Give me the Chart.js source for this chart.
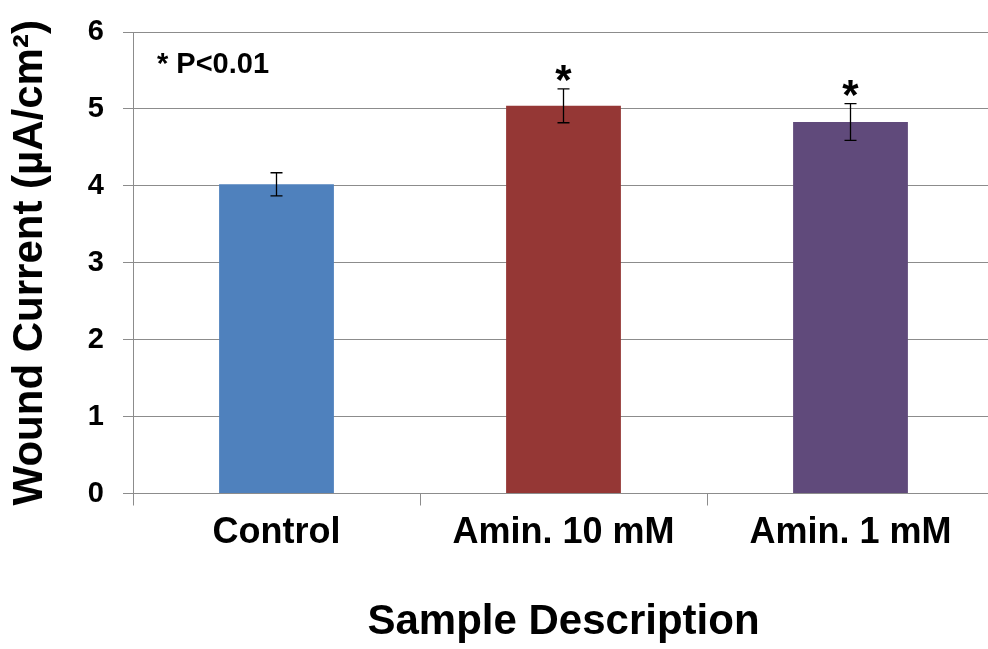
<!DOCTYPE html>
<html>
<head>
<meta charset="utf-8">
<title>Wound Current</title>
<script src="https://cdn.jsdelivr.net/npm/chart.js@4/dist/chart.umd.min.js"></script>
<style>
    html, body { margin: 0; padding: 0; background: #fff; overflow: hidden; }
    #wrap { width: 988px; height: 649px; overflow: hidden; }
</style>
</head>
<body>
<div id="wrap">
    <canvas id="woundChart" width="994" height="649"></canvas>
</div>
<script>
// values
const categories = ['Control', 'Amin. 10 mM', 'Amin. 1 mM'];
const currents = [4.02, 5.04, 4.83];
const errors = [0.15, 0.22, 0.24];
const significant = [false, true, true];
const barColors = ['#4f81bd', '#953735', '#604a7b'];
const yTicks = [0, 1, 2, 3, 4, 5, 6];

const FONT = '"Liberation Sans", Arial, sans-serif';
const GRID = '#8c8c8c';

// error bars, significance stars and the p-value note
const errorBarPlugin = {
    id: 'errorBars',
    afterDatasetsDraw(chart) {
        const ctx = chart.ctx;
        const y = chart.scales.y;
        const meta = chart.getDatasetMeta(0);
        ctx.save();
        ctx.strokeStyle = '#000';
        ctx.lineWidth = 1.3;
        meta.data.forEach(function (bar, i) {
            const top = y.getPixelForValue(currents[i] + errors[i]);
            const bottom = y.getPixelForValue(currents[i] - errors[i]);
            ctx.beginPath();
            ctx.moveTo(bar.x, top);
            ctx.lineTo(bar.x, bottom);
            ctx.moveTo(bar.x - 6, top);
            ctx.lineTo(bar.x + 6, top);
            ctx.moveTo(bar.x - 6, bottom);
            ctx.lineTo(bar.x + 6, bottom);
            ctx.stroke();
            if (significant[i]) {
                ctx.fillStyle = '#000';
                ctx.font = 'bold 42px ' + FONT;
                ctx.textAlign = 'center';
                ctx.textBaseline = 'alphabetic';
                ctx.fillText('*', bar.x, top + 5);
            }
        });
        const area = chart.chartArea;
        ctx.fillStyle = '#000';
        ctx.font = 'bold 29px ' + FONT;
        ctx.textAlign = 'left';
        ctx.textBaseline = 'alphabetic';
        ctx.fillText('* P<0.01', area.left + 24, area.top + 41);
        ctx.restore();
    }
};

const canvas = document.getElementById('woundChart');
new Chart(canvas.getContext('2d'), {
    type: 'bar',
    data: {
        labels: categories,
        datasets: [{
            label: 'Wound Current',
            data: currents,
            backgroundColor: barColors,
            borderWidth: 0,
            barPercentage: 0.4,
            categoryPercentage: 1.0
        }]
    },
    options: {
        responsive: false,
        animation: false,
        layout: { padding: { top: 32, right: 0, bottom: 0, left: 0 } },
        plugins: {
            legend: { display: false },
            tooltip: { enabled: false }
        },
        scales: {
            x: {
                offset: true,
                grid: {
                    offset: true,
                    drawOnChartArea: false,
                    drawTicks: true,
                    tickLength: 12,
                    color: GRID,
                    lineWidth: 1
                },
                border: { color: GRID, width: 1 },
                ticks: {
                    color: '#000',
                    padding: 6,
                    font: { family: FONT, size: 36, weight: 'bold', lineHeight: 1.2 }
                },
                title: {
                    display: true,
                    text: 'Sample Description',
                    color: '#000',
                    padding: { top: 0, bottom: 1 },
                    font: { family: FONT, size: 42, weight: 'bold', lineHeight: 1.2 }
                },
                afterFit(scale) { scale.height = 155.5; }
            },
            y: {
                min: 0,
                max: 6,
                afterBuildTicks(scale) {
                    scale.ticks = yTicks.map(function (v) { return { value: v }; });
                },
                grid: {
                    color: GRID,
                    lineWidth: 1,
                    tickLength: 10
                },
                border: { color: GRID, width: 1 },
                ticks: {
                    color: '#000',
                    padding: 19,
                    font: { family: FONT, size: 29, weight: 'bold' }
                },
                title: {
                    display: true,
                    text: 'Wound Current (µA/cm²)',
                    color: '#000',
                    padding: { top: 5, bottom: 0 },
                    font: { family: FONT, size: 42, weight: 'bold', lineHeight: 1.2 }
                },
                afterFit(scale) {
                    scale.width = 133;
                    scale.paddingTop = 0;
                    scale.paddingBottom = 0;
                }
            }
        }
    },
    plugins: [errorBarPlugin]
});
</script>
</body>
</html>
